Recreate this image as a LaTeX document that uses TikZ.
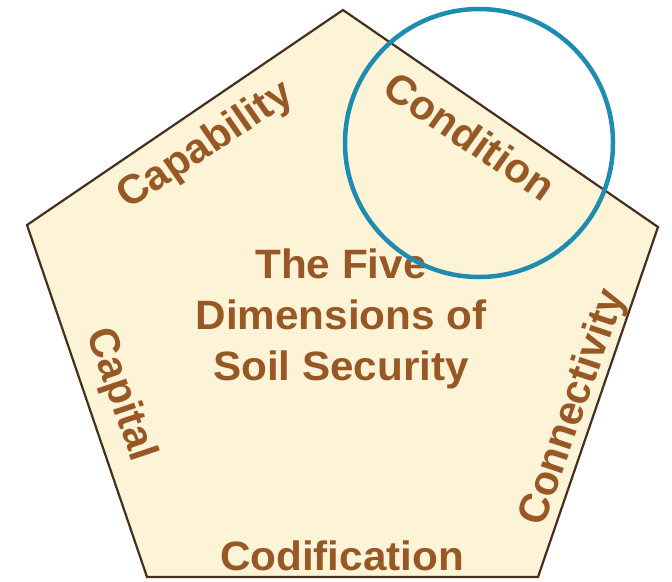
\documentclass[tikz,border=0pt]{standalone}
\usepackage{fontspec}
\setmainfont{Liberation Sans}
\definecolor{soilfill}{RGB}{253,243,214}
\definecolor{soilline}{RGB}{72,46,30}
\definecolor{soiltext}{RGB}{152,88,38}
\definecolor{ringblue}{RGB}{30,140,175}

\tikzset{pentagon/.style={fill=soilfill, draw=soilline, line width=2.2pt, line join=miter},
    dimension/.style={text=soiltext, font=\fontsize{41}{48}\selectfont\bfseries, inner sep=0pt, xscale=1.03},
    title/.style={dimension, align=center, font=\fontsize{41}{51}\selectfont\bfseries},
    highlight ring/.style={draw=ringblue, line width=4.5pt},
}

\begin{document}
\begin{tikzpicture}[x=1pt, y=-1pt]
	\useasboundingbox (0, 0) rectangle (672, 581);

	% corners of the pentagon
	\coordinate (top) at (343, 10);
	\coordinate (left) at (27, 225);
	\coordinate (right) at (658, 227);
	\coordinate (bottom left) at (147, 577);
	\coordinate (bottom right) at (538, 577);

	\draw[pentagon] (top) -- (right) -- (bottom right) -- (bottom left) -- (left) -- cycle;

	% the five dimensions, one along each side
	\node[dimension, rotate=34] (capability) at (206, 146) {Capability};
	\node[dimension, rotate=-34.6] (condition) at (470, 136) {Condition};
	\node[dimension, rotate=71] (connectivity) at (574, 408) {Connectivity};
	\node[dimension, rotate=-71] (capital) at (120, 395) {Capital};
	\node[dimension] (codification) at (342, 556) {Codification};

	% centre title
	\node[title] (heading) at (341, 319) {The Five\\Dimensions of\\Soil Security};

	% ring around condition
	\draw[highlight ring] (479, 143) circle (134);
\end{tikzpicture}
\end{document}
